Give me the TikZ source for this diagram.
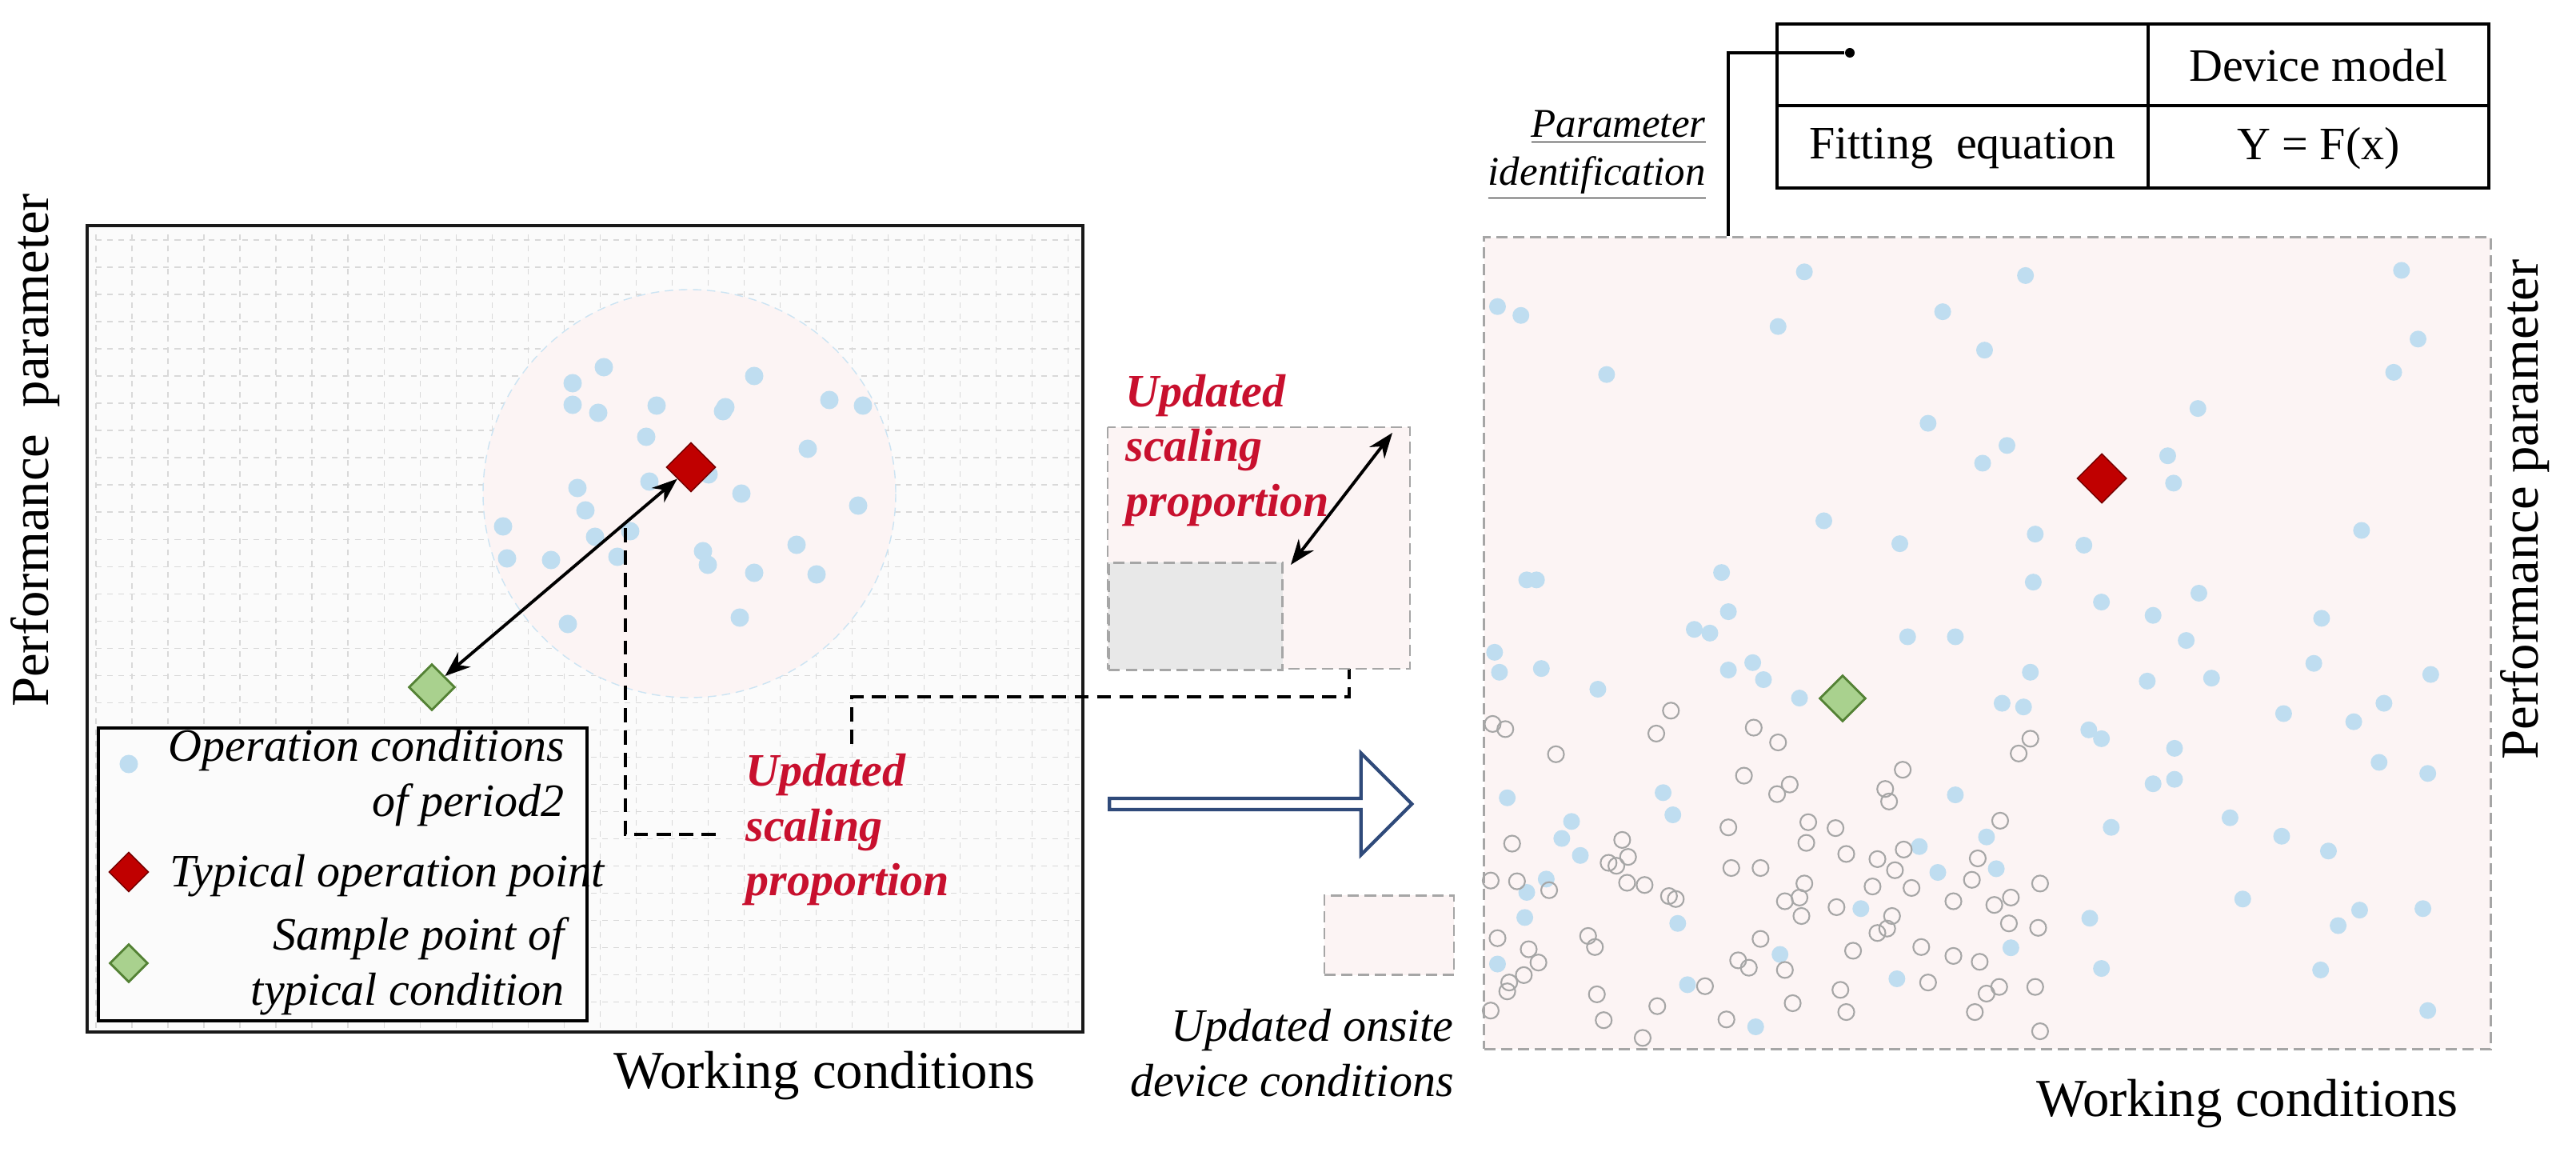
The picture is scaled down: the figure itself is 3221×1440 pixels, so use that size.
\documentclass[tikz,border=0pt]{standalone}
\usepackage{fontspec}
\setmainfont{Liberation Serif}
\usetikzlibrary{shapes.geometric,shapes.arrows,arrows.meta}
\definecolor{dotblue}{HTML}{BFDDF0}
\definecolor{pinkbg}{HTML}{FCF4F4}
\definecolor{redd}{HTML}{C00000}
\definecolor{redtxt}{HTML}{C8102E}
\definecolor{greend}{HTML}{A9D18E}
\definecolor{greenb}{HTML}{548235}
\definecolor{navy}{HTML}{2F4A7A}
\tikzset{
 bd/.style={circle,fill=dotblue,inner sep=0,minimum size=0.21cm},
 hd/.style={circle,draw=gray!70,line width=0.6pt,fill=none,inner sep=0,minimum size=0.2cm},
 rdia/.style={diamond,fill=redd,draw=redd!60!black,inner sep=0,minimum size=0.62cm,aspect=1},
 gdia/.style={diamond,fill=greend,draw=greenb,line width=0.8pt,inner sep=0,minimum size=0.58cm,aspect=1},
 lab/.style={font=\fontsize{19}{22}\selectfont},
 leg/.style={font=\fontsize{16.5}{19.5}\selectfont\itshape},
 red/.style={font=\fontsize{16.5}{19.5}\selectfont\bfseries\itshape,text=redtxt,align=left},
 tab/.style={font=\fontsize{16.5}{20}\selectfont},
 dsh/.style={dashed,line width=0.9pt,dash pattern=on 5pt off 3pt},
 gdash/.style={draw=gray!70,dash pattern=on 4pt off 2pt,line width=0.8pt},
}
\begin{document}
\begin{tikzpicture}[x=0.01cm,y=-0.01cm]
\useasboundingbox (0,0) rectangle (3221,1440);
% ---------- left panel ----------
\fill[white!97!gray] (109,282) rectangle (1354,1290);
\draw[gray!30,dash pattern=on 2pt off 2pt,line width=0.4pt,xstep=0.45cm,ystep=0.34cm,shift={(120,300)}] (0,-10) grid (1230,985);
\fill[pinkbg] (862,617) ellipse [x radius=258,y radius=255];
\draw[dotblue!80,dash pattern=on 3pt off 2pt] (862,617) ellipse [x radius=258,y radius=255];
\draw[line width=1pt,gray!20!black] (109,282) rectangle (1354,1290);
\foreach \x/\y [count=\i] in {755/459,716/479,716/506,748/516,821/507,904/514,907/509,943/470,1037/500,1079/507,808/546,1010/561,886/593,812/602,722/610,927/617,1073/632,732/638,629/658,744/671,788/664,996/681,634/698,689/700,772/696,879/689,885/706,943/716,1021/718,710/780,925/772}
  \node[bd,minimum size=0.23cm] (L\i) at (\x,\y) {};
\node[rdia] (R1) at (864,584) {};
\node[gdia] (G1) at (540,859) {};
\draw[{Stealth[length=9pt]}-{Stealth[length=9pt]},line width=1.1pt] (G1) -- (R1);
\node[lab,rotate=90] (ylab1) at (44,563) {Performance\ \ parameter};
\node[lab] (xlab1) at (1031,1345) {Working conditions};
% legend
\draw[line width=1.1pt,fill=white!97!gray] (123,910) rectangle (734,1276);
\node[bd,minimum size=0.23cm] (lg1) at (161,955) {};
\node[leg,anchor=east,align=right] (lt1) at (718,972) {Operation conditions\\ of period2};
\node[rdia,minimum size=0.5cm] (lg2) at (161,1090) {};
\node[leg,anchor=west] (lt2) at (200,1095) {Typical operation point};
\node[gdia,minimum size=0.48cm] (lg3) at (161,1204) {};
\node[leg,anchor=east,align=right] (lt3) at (718,1208) {Sample point of\\ typical condition};
% dashed connectors and red text
\coordinate (d1a) at (782,660);
\coordinate (d1b) at (904,1043);
\draw[dsh] (d1a) |- (d1b);
\node[red,anchor=north west] (rt1) at (920,930) {Updated\\ scaling\\ proportion};
\coordinate (d2a) at (1065,930);
\coordinate (d2c) at (1687,620);
\draw[dsh] (d2a) -- (1065,871) -| (d2c);
% ---------- middle ----------
\fill[pinkbg] (1385,534) rectangle (1763,836);
\draw[gdash] (1385,534) rectangle (1763,836);
\node[draw=gray!70,dash pattern=on 4pt off 2pt,line width=0.8pt,fill=gray!18,minimum width=2.17cm,minimum height=1.34cm,anchor=north west] (gbox) at (1385,702) {};
\coordinate (sc2) at (1741,541);
\draw[{Stealth[length=9pt]}-{Stealth[length=9pt]},line width=1.1pt] (gbox.north east) ++(9,4) coordinate (sc1) -- (sc2);
\node[red,anchor=west] (rt2) at (1395,563) {Updated\\ scaling\\ proportion};
\node[single arrow,draw=navy,line width=1.2pt,fill=white,minimum height=3.78cm,single arrow head extend=0.17cm,minimum width=1.27cm,inner sep=0,anchor=west] (big) at (1385,1005) {};
\node[draw=gray!70,dash pattern=on 4pt off 2pt,line width=0.8pt,fill=pinkbg,minimum width=1.62cm,minimum height=0.99cm] (sbox) at (1737,1169) {};
\node[leg,anchor=east,align=right] (ot) at (1830,1316) {Updated onsite\\ device conditions};
% ---------- right panel ----------
\node[draw=gray!70,dash pattern=on 4pt off 2pt,line width=0.9pt,fill=pinkbg,minimum width=12.58cm,minimum height=10.14cm,anchor=north west,inner sep=0] (rbox) at (1854,295) {};
\begin{scope}[shift={(1300,0)},xscale=1.218,yscale=0.9234]
\foreach \x/\y [count=\i] in {470/415,494/427,785/368,1012/373,758/442,927/422,970/474,582/507,1398/366,1415/459,1390/504,1189/553,912/573,993/603,968/627,1158/617,1164/654,805/705,883/736,1022/723,1072/738,1357/718,500/785,510/785,700/775,1020/788,1090/815,1190/803,1143/833,1316/837,707/828,672/852,688/857,891/862,940/862,1177/867,467/883,472/910,515/905,732/897,707/907,743/920,1017/910,1137/922,1203/918,1308/898,1428/913,573/933,780/945,988/952,1010/957,1277/966,1349/977,1380/952,1077/988,1090/1000,1165/1013,1375/1032,1425/1047,1143/1061,1165/1055,480/1080,640/1073,940/1076,650/1103,1222/1107,1100/1120,546/1112,536/1135,972/1133,903/1146,1275/1132,1323/1152,555/1158,520/1190,500/1208,922/1181,982/1176,1235/1217,1355/1232,1420/1230,1333/1253,498/1242,655/1250,843/1230,1078/1243,997/1283,470/1305,760/1292,1090/1311,1315/1313,665/1333,880/1325,735/1390,1425/1368}
  \node[bd] (B\i) at (\x,\y) {};
\foreach \x/\y [count=\i] in {465/980,478/987,648/962,633/993,733/985,758/1005,530/1021,1017/1000,1005/1020,886/1042,723/1050,770/1062,757/1075,868/1068,872/1085,707/1120,789/1113,817/1121,787/1141,986/1111,598/1137,485/1142,828/1156,860/1163,887/1150,963/1162,584/1168,592/1172,604/1160,710/1175,740/1175,878/1178,463/1192,490/1193,603/1195,621/1198,646/1213,653/1217,785/1196,523/1205,855/1200,895/1202,957/1191,1027/1196,765/1220,780/1215,782/1240,818/1228,875/1240,938/1220,980/1225,997/1215,995/1250,1025/1256,860/1263,870/1257,470/1270,563/1267,570/1282,502/1285,512/1303,740/1271,835/1287,905/1282,938/1294,965/1302,717/1300,728/1310,765/1313,482/1330,480/1342,497/1320,572/1346,822/1340,912/1330,972/1345,985/1336,1022/1336,463/1368,634/1362,683/1335,773/1358,828/1370,960/1370,579/1381,705/1380,1027/1396,619/1405}
  \node[hd] (H\i) at (\x,\y) {};
\end{scope}
\node[rdia] (R2) at (2628,598) {};
\node[gdia] (G2) at (2304,873) {};
\node[lab,rotate=90] (ylab2) at (3157,637) {Performance parameter};
\node[lab] (xlab2) at (2810,1380) {Working conditions};
% table
\draw[line width=1.1pt] (2222,30) rectangle (3112,235);
\draw[line width=1.1pt] (2222,132) -- (3112,132) (2686,30) -- (2686,235);
\node[tab] (t1) at (2899,82) {Device model};
\node[tab] (t2) at (2454,186) {Fitting\ \ equation};
\node[tab] (t3) at (2899,186) {Y = F(x)};
\node[circle,fill=black,inner sep=0,minimum size=0.12cm] (pdot) at (2313,66) {};
\coordinate (pend) at (2161,295);
\draw[line width=1pt] (pdot) -| (pend);
\node[leg,anchor=east,align=right,font=\fontsize{14.5}{17}\selectfont\itshape] (pid) at (2145,194) {\underline{Parameter}\\ \underline{identification}};
\end{tikzpicture}
\end{document}
